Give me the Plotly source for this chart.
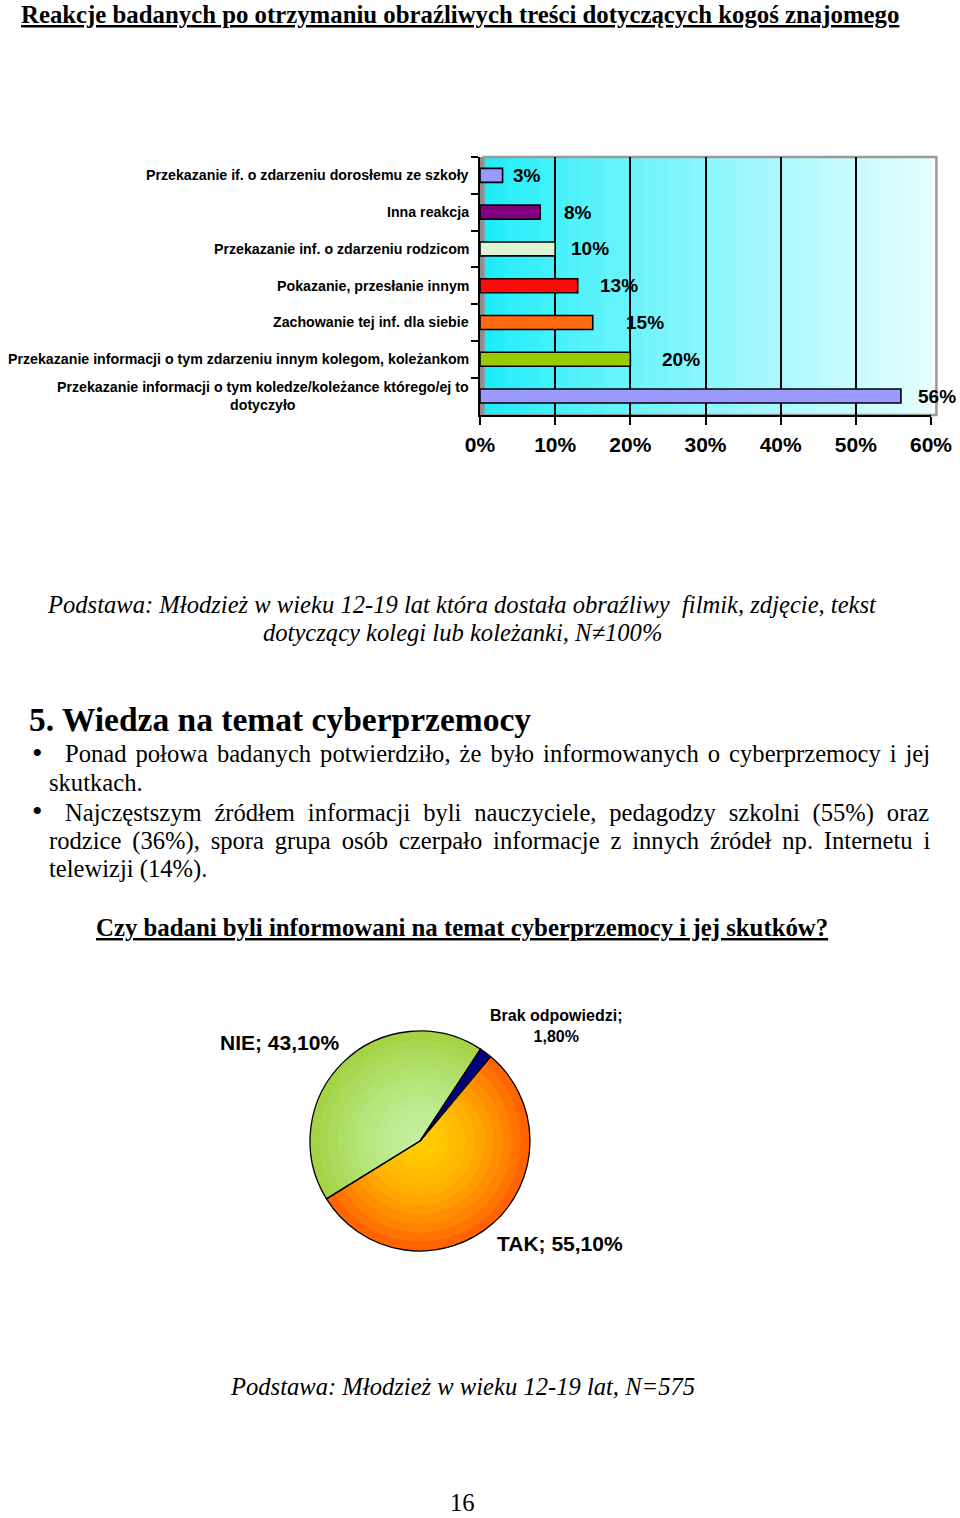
import plotly.graph_objects as go

W, H = 960, 1518

# ---------------- data ----------------
TITLE = "Reakcje badanych po otrzymaniu obraźliwych treści dotyczących kogoś znajomego"

BAR_CATEGORIES = [
    "Przekazanie if. o zdarzeniu dorosłemu ze szkoły",
    "Inna reakcja",
    "Przekazanie inf. o zdarzeniu rodzicom",
    "Pokazanie, przesłanie innym",
    "Zachowanie tej inf. dla siebie",
    "Przekazanie informacji o tym zdarzeniu innym kolegom, koleżankom",
    "Przekazanie informacji o tym koledze/koleżance którego/ej to<br>dotyczyło",
]
BAR_VALUES = [3, 8, 10, 13, 15, 20, 56]
X_TICKS = [0, 10, 20, 30, 40, 50, 60]
X_TICK_TEXT = ["0%", "10%", "20%", "30%", "40%", "50%", "60%"]

PIE_LABELS = ["Brak odpowiedzi", "TAK", "NIE"]
PIE_VALUES = [1.8, 55.1, 43.1]

# ---------------- styles ----------------
BAR_COLORS = ["#9999FF", "#800080", "#DDF5D2", "#FF0A0A", "#FF6A10", "#99CC00", "#9999FF"]
LABEL_GAP = [10, 24, 16, 22, 33, 32, 17]
SANS = "Liberation Sans, Arial, sans-serif"
SERIF = "Liberation Serif, Times New Roman, serif"


def px(x):
    return x / W


def py(y):
    return 1 - y / H


def lerp(c1, c2, t):
    return "rgb(%d,%d,%d)" % tuple(round(a + (b - a) * t) for a, b in zip(c1, c2))


fig = go.Figure()

# ---------------- bar chart ----------------
fig.add_trace(go.Bar(
    x=BAR_VALUES, y=BAR_CATEGORIES, orientation="h",
    marker=dict(color=BAR_COLORS, line=dict(color="black", width=1.6)),
    width=0.38, showlegend=False, hoverinfo="x+y",
))

annotations = []
for cat, val, gap in zip(BAR_CATEGORIES, BAR_VALUES, LABEL_GAP):
    annotations.append(dict(
        x=val, y=cat, xref="x", yref="y", text=f"<b>{val}%</b>", showarrow=False,
        xanchor="left", yanchor="middle", xshift=gap - 2,
        font=dict(family=SANS, size=19, color="black"),
    ))
    annotations.append(dict(
        x=px(471), y=cat, xref="paper", yref="y", text=f"<b>{cat}</b>", showarrow=False,
        xanchor="right", yanchor="middle", align="center",
        font=dict(family=SANS, size=14.2, color="black"),
    ))

# gradient background of the plot wall
shapes = []
N_BANDS = 36
c_left, c_right = (20, 236, 248), (228, 254, 255)
for i in range(N_BANDS):
    t = (i + 0.5) / N_BANDS
    shapes.append(dict(
        type="rect", xref="x domain", yref="y domain",
        x0=i / N_BANDS, x1=(i + 1) / N_BANDS + 0.002, y0=0, y1=1,
        fillcolor=lerp(c_left, c_right, t ** 0.8), line=dict(width=0), layer="below",
    ))
shapes.append(dict(
    type="rect", xref="x domain", yref="y domain", x0=0.008, x1=1.012, y0=0.0, y1=1.0,
    line=dict(color="#9A9A9A", width=2.5), fillcolor="rgba(0,0,0,0)", layer="below",
))
shapes.append(dict(
    type="rect", xref="x domain", yref="y domain", x0=0.0, x1=0.008, y0=0.0, y1=1.0,
    line=dict(width=0), fillcolor="#8C8C8C", layer="below",
))

fig.update_layout(
    xaxis=dict(
        domain=[px(480), px(931)], range=[0, 60], tickmode="array",
        tickvals=X_TICKS, ticktext=[f"<b>{t}</b>" for t in X_TICK_TEXT],
        ticks="outside", ticklen=8, tickwidth=1.5, tickcolor="black",
        showline=True, linecolor="black", linewidth=2,
        showgrid=True, gridcolor="black", gridwidth=1.6, zeroline=False,
        tickfont=dict(family=SANS, size=21, color="black"), ticklabelstandoff=2,
        fixedrange=True, automargin=False,
    ),
    yaxis=dict(
        domain=[py(415), py(157)], type="category", autorange="reversed",
        showticklabels=False, ticks="outside", tickson="boundaries", ticklen=7,
        tickwidth=1.5, tickcolor="black", showline=True, linecolor="black", linewidth=2,
        showgrid=False, zeroline=False, fixedrange=True, automargin=False,
    ),
)

# ---------------- pie chart (radial shading with stacked layers) ----------------
CX, CY, R = 420, 1141, 110
N_LAYERS = 12
tak_outer, tak_inner = (255, 100, 0), (255, 206, 0)
nie_outer, nie_inner = (164, 212, 70), (196, 240, 160)
for k in range(N_LAYERS, 0, -1):
    f = k / N_LAYERS
    r = R * f
    fig.add_trace(go.Pie(
        labels=PIE_LABELS, values=PIE_VALUES, sort=False, direction="clockwise",
        rotation=33.4, textinfo="none", hoverinfo="label+percent",
        marker=dict(colors=["#000080",
                            lerp(tak_inner, tak_outer, f ** 1.8),
                            lerp(nie_inner, nie_outer, f ** 1.5)],
                    line=dict(width=0)),
        domain=dict(x=[px(CX - r), px(CX + r)], y=[py(CY + r), py(CY - r)]),
        showlegend=False,
    ))
fig.add_trace(go.Pie(
    labels=PIE_LABELS, values=PIE_VALUES, sort=False, direction="clockwise",
    rotation=33.4, textinfo="none", hoverinfo="skip",
    marker=dict(colors=["rgba(0,0,0,0)"] * 3, line=dict(color="black", width=1.3)),
    domain=dict(x=[px(CX - R), px(CX + R)], y=[py(CY + R), py(CY - R)]),
    showlegend=False,
))


def pct(value):
    return f"{value:.2f}".replace(".", ",") + "%"


pie_text_pos = {"NIE": (279, 1042), "TAK": (560, 1243)}
for lab, val in zip(PIE_LABELS, PIE_VALUES):
    if lab in pie_text_pos:
        x, y = pie_text_pos[lab]
        annotations.append(dict(
            x=px(x), y=py(y), xref="paper", yref="paper", showarrow=False,
            text=f"<b>{lab}; {pct(val)}</b>", xanchor="center", yanchor="middle",
            font=dict(family=SANS, size=21, color="black"),
        ))
    else:
        annotations.append(dict(
            x=px(556), y=py(1026), xref="paper", yref="paper", showarrow=False,
            text=f"<b>{lab};<br>{pct(val)}</b>",
            xanchor="center", yanchor="middle", align="center",
            font=dict(family=SANS, size=16, color="black"),
        ))

# ---------------- page text ----------------
def txt(x, y, text, size=24.6, anchor="left", family=SERIF, ws=None, yanchor="middle"):
    if ws is not None:
        text = f'<span style="word-spacing:{ws}px">{text}</span>'
    annotations.append(dict(
        x=px(x), y=py(y), xref="paper", yref="paper", text=text, showarrow=False,
        xanchor=anchor, yanchor=yanchor, borderpad=0,
        font=dict(family=family, size=size, color="black"),
    ))


txt(20, 0, f"<b><u>{TITLE}</u></b>", size=24.8, yanchor="top")
txt(462, 604, "<i>Podstawa: Młodzież w wieku 12-19 lat która dostała obraźliwy  filmik, zdjęcie, tekst</i>",
    anchor="center")
txt(462, 632, "<i>dotyczący kolegi lub koleżanki, N≠100%</i>", anchor="center")
txt(28, 719, "<b>5. Wiedza na temat cyberprzemocy</b>", size=33.5)
txt(37, 752, "•", size=30, anchor="center")
txt(64, 754, "Ponad połowa badanych potwierdziło, że było informowanych o cyberprzemocy i jej", ws=2.85)
txt(48, 782, "skutkach.")
txt(37, 811, "•", size=30, anchor="center")
txt(64, 813, "Najczęstszym źródłem informacji byli nauczyciele, pedagodzy szkolni (55%) oraz", ws=6.7)
txt(48, 841, "rodzice (36%), spora grupa osób czerpało informacje z innych źródeł np. Internetu i", ws=4.7)
txt(48, 869, "telewizji (14%).")
txt(462, 927, "<b><u>Czy badani byli informowani na temat cyberprzemocy i jej skutków?</u></b>",
    size=24.8, anchor="center")
txt(462, 1386, "<i>Podstawa: Młodzież w wieku 12-19 lat, N=575</i>", anchor="center")
txt(462, 1502, "16", anchor="center")

fig.update_layout(
    width=W, height=H, margin=dict(l=0, r=0, t=0, b=0, pad=0, autoexpand=False),
    paper_bgcolor="white", plot_bgcolor="#BFF8FC",
    annotations=annotations, shapes=shapes, bargap=0.62,
)

fig.write_html("out.html")
